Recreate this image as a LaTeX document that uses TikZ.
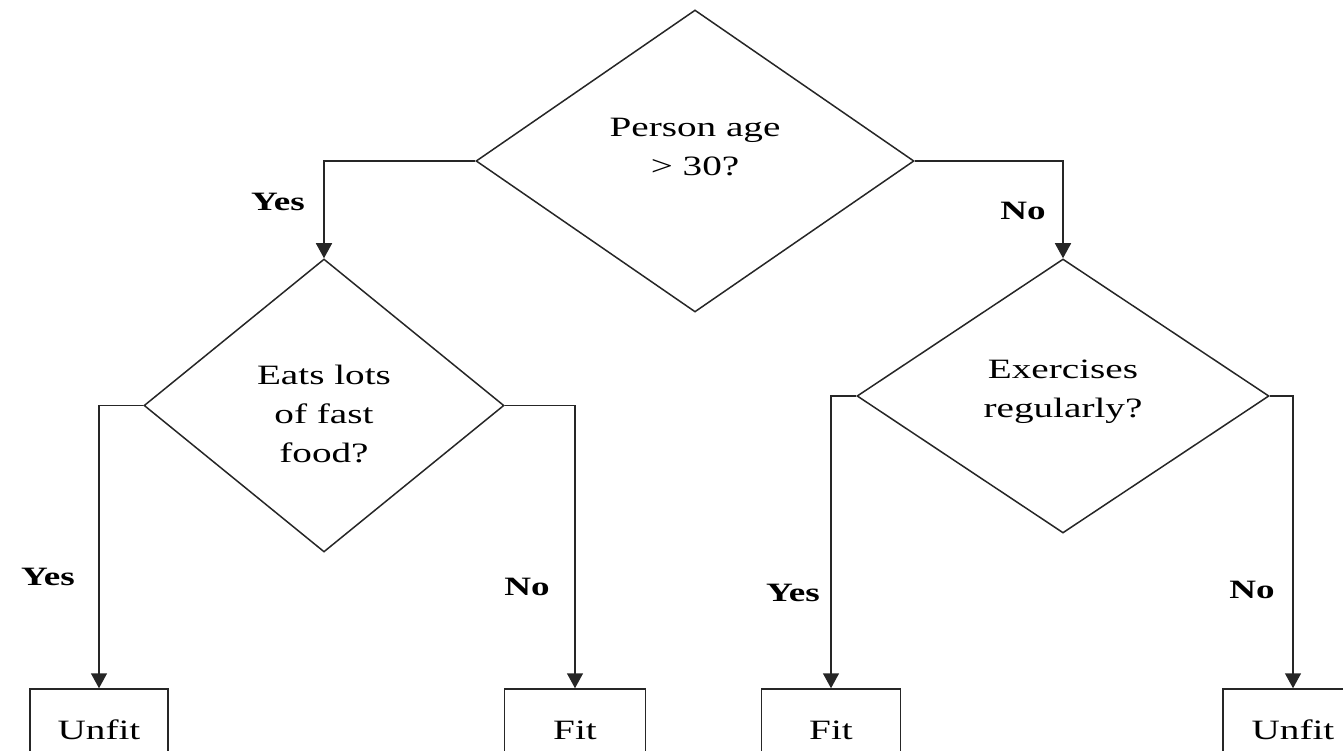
\documentclass[tikz,border=0pt]{standalone}
\usepackage{fontspec}
\setmainfont{Liberation Serif}[FakeStretch=1.4]
\usetikzlibrary{shapes.geometric,arrows.meta}
\begin{document}
\begin{tikzpicture}[x=1pt,y=-1pt,
  dec/.style={diamond, draw=black!85, line width=1.5pt, inner sep=0pt},
  txt/.style={align=center, inner sep=0pt, font=\fontsize{28}{39}\selectfont},
  leaf/.style={rectangle, draw=black!85, line width=1.5pt, minimum height=82pt, inner sep=0pt, font=\fontsize{28}{39}\selectfont},
  lab/.style={inner sep=0pt, font=\fontsize{26.5}{30}\selectfont\bfseries},
  conn/.style={draw=black!85, line width=1.5pt, -{Triangle[width=16pt,length=15pt]}}]
\useasboundingbox (0,0) rectangle (1343,751);
\clip (0,0) rectangle (1343,751);
% decisions
\node[dec, minimum width=438pt, minimum height=302pt] (q1) at (695,161) {};
\node[txt] (t1) at (695,147) {Person age\\> 30?};
\node[dec, minimum width=360pt, minimum height=293pt] (q2) at (324,405.5) {};
\node[txt] (t2) at (324,413.5) {Eats lots\\of fast\\food?};
\node[dec, minimum width=412pt, minimum height=274pt] (q3) at (1063,396) {};
\node[txt] (t3) at (1063,391.5) {Exercises\\regularly?};
% leaves
\node[leaf, minimum width=138pt] (l1) at (99,730) {Unfit};
\node[leaf, minimum width=141pt] (l2) at (575,730) {Fit};
\node[leaf, minimum width=139pt] (l3) at (831,730) {Fit};
\node[leaf, minimum width=140pt] (l4) at (1293,730) {Unfit};
% connectors
\draw[conn] (q1.west) -| (q2.north);
\draw[conn] (q1.east) -| (q3.north);
\draw[conn] (q2.west) -| (l1.north);
\draw[conn] (q2.east) -| (l2.north);
\draw[conn] (q3.west) -| (l3.north);
\draw[conn] (q3.east) -| (l4.north);
% labels
\node[lab] (y1) at (278,202) {Yes};
\node[lab] (n1) at (1023,211) {No};
\node[lab] (y2) at (48,577) {Yes};
\node[lab] (n2) at (527,587) {No};
\node[lab] (y3) at (793,593) {Yes};
\node[lab] (n3) at (1252,590) {No};
\end{tikzpicture}
\end{document}
